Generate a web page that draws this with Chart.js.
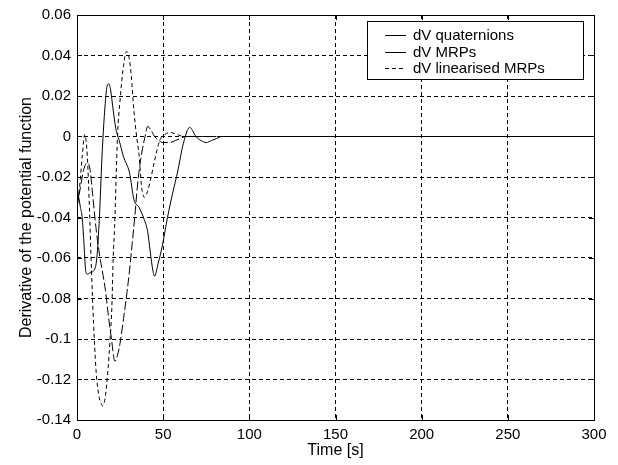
<!DOCTYPE html>
<html lang="en">
<head>
<meta charset="UTF-8">
<title>Derivative of the potential function</title>
<script src="https://cdn.jsdelivr.net/npm/chart.js"></script>
<style>
  html, body { margin: 0; padding: 0; background: #fff; }
</style>
</head>
<body>
<canvas id="ctx" width="618" height="465"></canvas>
<script>
// dV quaternions (solid)
const tQuat = [0, 1, 2, 3, 4, 5, 6, 8, 10, 11.5, 13, 14.5, 16, 17.5, 18.5, 19.5, 21, 22.5, 24.5, 27, 30.5, 33, 36, 39, 41, 42.5, 44, 45, 47, 49.5, 52.5, 55.5, 58.5, 61, 62.5, 64, 65.5, 67, 69, 72, 75, 78, 81, 84, 90, 300];
const dvQuat = [-0.025, -0.03, -0.035, -0.04, -0.052, -0.066, -0.068, -0.067, -0.066, -0.06, -0.04, -0.01, 0.012, 0.025, 0.026, 0.023, 0.013, 0.004, -0.002, -0.01, -0.018, -0.031, -0.035, -0.041, -0.047, -0.057, -0.066, -0.069, -0.063, -0.054, -0.04, -0.028, -0.017, -0.006, -0.001, 0.003, 0.0045, 0.003, 0.0, -0.002, -0.003, -0.002, -0.001, 0, 0, 0];

// dV MRPs
const tMrp = [0, 2, 4, 6, 7.5, 9, 11, 13, 15, 16.5, 18, 20, 22, 23.5, 25, 27, 29, 30.5, 32, 33.5, 35, 36.5, 38, 39.5, 41, 43, 45, 47.5, 50, 54, 57, 60, 63, 70, 300];
const dvMrp = [-0.035, -0.025, -0.016, -0.013, -0.016, -0.028, -0.045, -0.058, -0.068, -0.076, -0.087, -0.1, -0.111, -0.108, -0.102, -0.09, -0.077, -0.066, -0.053, -0.04, -0.025, -0.014, -0.006, 0.0, 0.005, 0.003, 0.0, -0.002, -0.003, -0.003, -0.002, -0.001, 0, 0, 0];

// dV linearised MRPs (dashed)
const tLin = [0, 1.5, 3, 4.5, 6, 7.2, 8.4, 9.6, 11, 12.5, 14, 15, 16.5, 18, 19.2, 20.2, 21, 21.8, 23.5, 25.2, 27, 28.7, 30, 31.5, 33, 34.6, 36, 37.5, 39, 41, 43, 45, 48, 51, 54, 58, 62, 70, 300];
const dvLin = [-0.035, -0.025, -0.01, 0.001, -0.01, -0.035, -0.066, -0.092, -0.115, -0.127, -0.132, -0.133, -0.128, -0.115, -0.1, -0.085, -0.06, -0.045, 0.0, 0.02, 0.035, 0.042, 0.04, 0.03, 0.013, 0.0, -0.009, -0.025, -0.03, -0.027, -0.02, -0.012, -0.002, 0.001, 0.002, 0.001, 0, 0, 0];

const xTicks = [0, 50, 100, 150, 200, 250, 300];
const yTicks = [-0.14, -0.12, -0.1, -0.08, -0.06, -0.04, -0.02, 0, 0.02, 0.04, 0.06];
const labels = ['dV quaternions', 'dV MRPs', 'dV linearised MRPs'];

function pts(t, v) {
	return t.map((x, i) => ({ x: x, y: v[i] }));
}

Chart.defaults.font.family = "'Liberation Sans', Arial, sans-serif";
Chart.defaults.font.size = 15;
Chart.defaults.color = '#000';

// box, inward ticks and legend in the MATLAB style
const matlabFrame = {
	id: 'matlabFrame',
	afterDatasetsDraw(chart) {
		const c = chart.ctx;
		const a = chart.chartArea;
		const xs = chart.scales.x, ys = chart.scales.y;
		c.save();
		c.strokeStyle = '#000';
		c.lineWidth = 1;
		c.setLineDash([]);
		c.strokeRect(a.left + 0.5, a.top + 0.5, a.right - a.left, a.bottom - a.top);
		c.beginPath();
		xTicks.forEach(v => {
			const p = Math.round(xs.getPixelForValue(v)) + 0.5;
			c.moveTo(p, a.bottom); c.lineTo(p, a.bottom - 5);
			c.moveTo(p, a.top); c.lineTo(p, a.top + 5);
		});
		yTicks.forEach(v => {
			const p = Math.round(ys.getPixelForValue(v)) + 0.5;
			c.moveTo(a.left, p); c.lineTo(a.left + 5, p);
			c.moveTo(a.right, p); c.lineTo(a.right - 5, p);
		});
		c.stroke();

		// legend
		const lx = 367, ly = 21, lw = 216, lh = 58;
		c.fillStyle = '#fff';
		c.fillRect(lx, ly, lw, lh);
		c.strokeRect(lx + 0.5, ly + 0.5, lw, lh);
		c.font = "15px 'Liberation Sans', Arial, sans-serif";
		c.textBaseline = 'middle';
		c.fillStyle = '#000';
		const dashes = [[], [], [4, 3]];
		labels.forEach((lab, i) => {
			const y = Math.round(ly + 14 + i * 16.5) + 0.5;
			c.setLineDash(dashes[i]);
			c.beginPath();
			c.moveTo(385, y); c.lineTo(406, y);
			c.stroke();
			c.fillText(lab, 413, y);
		});
		c.restore();
	}
};

new Chart(document.getElementById('ctx'), {
	type: 'line',
	data: {
		datasets: [{
			label: labels[0],
			data: pts(tQuat, dvQuat),
			borderColor: '#000',
			borderWidth: 1,
			pointRadius: 0,
			cubicInterpolationMode: 'monotone'
		}, {
			label: labels[1],
			data: pts(tMrp, dvMrp),
			borderColor: '#000',
			borderWidth: 1,
			borderDash: [9, 3],
			pointRadius: 0,
			cubicInterpolationMode: 'monotone'
		}, {
			label: labels[2],
			data: pts(tLin, dvLin),
			borderColor: '#000',
			borderWidth: 1,
			borderDash: [4, 3],
			pointRadius: 0,
			cubicInterpolationMode: 'monotone'
		}]
	},
	options: {
		responsive: false,
		animation: false,
		layout: { padding: { top: 15, right: 24, left: 0, bottom: 0 } },
		plugins: { legend: { display: false }, tooltip: { enabled: false } },
		scales: {
			x: {
				type: 'linear',
				min: 0,
				max: 300,
				afterBuildTicks: s => { s.ticks = xTicks.map(v => ({ value: v })); },
				afterFit: s => { s.height = 45; },
				ticks: { padding: 6, maxRotation: 0 },
				grid: { color: '#000', lineWidth: 1, drawTicks: false },
				border: { display: false, dash: [4, 3] },
				title: { display: true, text: 'Time [s]', font: { size: 16 }, padding: { top: 0, bottom: 5 } }
			},
			y: {
				type: 'linear',
				min: -0.14,
				max: 0.06,
				afterBuildTicks: s => { s.ticks = yTicks.map(v => ({ value: v })); },
				afterFit: s => { s.width = 77; },
				ticks: {
					padding: 6,
					callback: v => String(parseFloat(v.toFixed(2)))
				},
				grid: { color: '#000', lineWidth: 1, drawTicks: false },
				border: { display: false, dash: [4, 3] },
				title: { display: true, text: 'Derivative of the potential function', font: { size: 16 }, padding: { top: 17, bottom: 0 } }
			}
		}
	},
	plugins: [matlabFrame]
});
</script>
</body>
</html>
